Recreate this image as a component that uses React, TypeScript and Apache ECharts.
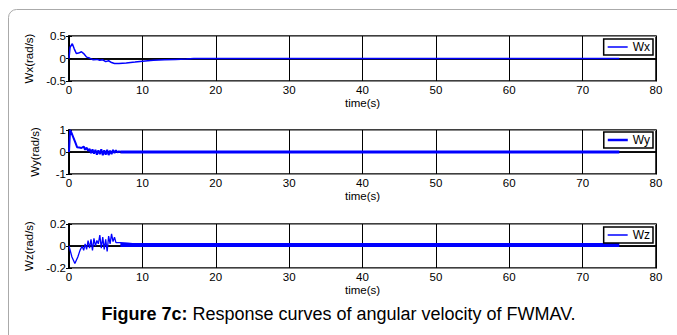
import React, { useEffect, useRef } from "react";
import * as echarts from "echarts";

const FONT = "'Liberation Sans', Arial, Helvetica, sans-serif";
const BLUE = "#0000ff";

// x ticks
const xTicks = [0, 10, 20, 30, 40, 50, 60, 70, 80];

// Wx (rad/s)
const tWx = [0, 0.15, 0.45, 0.7, 1.0, 1.3, 1.7, 2.0, 2.4, 2.8, 3.3, 3.8, 4.2, 4.6, 5.0, 5.4, 5.8, 6.2, 6.8, 7.8, 9.0, 10.0, 11.5, 13.0, 14.5, 16.0, 17.0, 75];
const vWx = [0, 0.25, 0.33, 0.22, 0.11, 0.12, 0.15, 0.11, 0.03, 0.01, -0.03, -0.02, -0.04, -0.03, -0.07, -0.05, -0.09, -0.11, -0.11, -0.1, -0.08, -0.06, -0.04, -0.03, -0.02, -0.01, 0, 0];

// Wy (rad/s) – transient part
const tWy = [0, 0.15, 0.3, 0.6, 0.9, 1.1, 1.4, 1.7, 2.0, 2.2, 2.4, 2.6, 2.8, 3.0, 3.2, 3.4, 3.6, 3.8, 4.0, 4.2, 4.4, 4.6, 4.8, 5.0, 5.2, 5.4, 5.6, 5.8, 6.0, 6.2, 6.4, 6.6, 6.8, 7.0];
const vWy = [0, 1.0, 0.9, 0.65, 0.4, 0.22, 0.2, 0.18, 0.25, 0.1, 0.2, 0.05, 0.15, -0.05, 0.12, -0.08, 0.1, -0.12, 0.08, -0.1, 0.12, -0.15, 0.08, -0.12, 0.1, -0.14, 0.06, -0.1, 0.1, -0.05, 0.08, -0.02, 0.03, 0];
// Wy steady part
const tWyTail = [7.0, 75];
const vWyTail = [0, 0];

// Wz (rad/s) – transient part
const tWz = [0, 0.4, 0.8, 1.2, 1.5, 1.8, 2.0, 2.2, 2.4, 2.6, 2.8, 3.0, 3.2, 3.4, 3.6, 3.8, 4.0, 4.2, 4.4, 4.6, 4.8, 5.0, 5.2, 5.4, 5.6, 5.8, 6.0, 6.2, 6.4, 6.7, 7.0, 8, 9, 10];
const vWz = [0, -0.1, -0.16, -0.1, -0.04, 0.0, -0.04, 0.02, -0.03, 0.05, -0.02, 0.06, -0.04, 0.07, 0.0, 0.05, 0.02, 0.1, -0.02, 0.08, -0.03, 0.06, -0.05, 0.09, 0.02, 0.11, 0.04, 0.08, 0.03, 0.03, 0.03, 0.025, 0.02, 0.015];
// Wz steady part
const tWzTail = [7.0, 75];
const vWzTail = [0.01, 0.01];

const yNames = ["Wx(rad/s)", "Wy(rad/s)", "Wz(rad/s)"];
const legendNames = ["Wx", "Wy", "Wz"];
const yMins = [-0.5, -1, -0.2];
const yMaxs = [0.5, 1, 0.2];
const yIntervals = [0.5, 1, 0.2];

const caption = "Figure 7c:";
const captionRest = " Response curves of angular velocity of FWMAV.";

const zip = (t: number[], v: number[]) => t.map((x, i) => [x, v[i]]);

export default function App() {
  const ref = useRef<HTMLDivElement>(null);
  useEffect(() => {
    if (!ref.current) return;
    const chart = echarts.init(ref.current, undefined, { renderer: "svg" });
    const tops = [36, 130, 224];
    const heights = [45, 44, 44];
    const legendTops = [39, 132, 227];
    const legendLineW = [1.5, 2.5, 1.5];
    const txt = { fontFamily: FONT, fontSize: 11.5, color: "#000" };

    const grid = tops.map((t, i) => ({
      left: 69,
      top: t,
      width: 587,
      height: heights[i],
      show: true,
      borderColor: "#000",
      borderWidth: 1.5,
      backgroundColor: "transparent",
    }));

    const xAxis: any[] = [];
    const yAxis: any[] = [];
    for (let i = 0; i < 3; i++) {
      xAxis.push({
        gridIndex: i,
        type: "value",
        min: xTicks[0],
        max: xTicks[xTicks.length - 1],
        interval: 10,
        axisLine: { show: true, lineStyle: { color: "#000", width: 1.5 } },
        axisTick: { show: true, inside: true, length: 3, lineStyle: { color: "#000" } },
        axisLabel: { margin: 3, ...txt },
        splitLine: { show: true, lineStyle: { color: "#000", width: 1 } },
        name: "time(s)",
        nameLocation: "middle",
        nameGap: 15,
        nameTextStyle: txt,
      });
      xAxis.push({
        gridIndex: i,
        type: "value",
        position: "top",
        min: xTicks[0],
        max: xTicks[xTicks.length - 1],
        interval: 10,
        axisLine: { show: true, lineStyle: { color: "#000", width: 1.5 } },
        axisTick: { show: true, inside: true, length: 3, lineStyle: { color: "#000" } },
        axisLabel: { show: false },
        splitLine: { show: false },
      });
      yAxis.push({
        gridIndex: i,
        type: "value",
        min: yMins[i],
        max: yMaxs[i],
        interval: yIntervals[i],
        axisLine: { show: true, lineStyle: { color: "#000", width: 1.5 } },
        axisTick: { show: true, inside: true, length: 3, lineStyle: { color: "#000" } },
        axisLabel: { margin: 3, ...txt },
        splitLine: { show: true, lineStyle: { color: "#888", width: 1 } },
        name: yNames[i],
        nameLocation: "middle",
        nameGap: 28,
        nameTextStyle: txt,
      });
      yAxis.push({
        gridIndex: i,
        type: "value",
        position: "right",
        min: yMins[i],
        max: yMaxs[i],
        interval: yIntervals[i],
        axisLine: { show: true, lineStyle: { color: "#000", width: 1.5 } },
        axisTick: { show: true, inside: true, length: 3, lineStyle: { color: "#000" } },
        axisLabel: { show: false },
        splitLine: { show: false },
      });
    }

    const lineBase = (name: string, gi: number, data: number[][], width: number) => ({
      name,
      type: "line",
      xAxisIndex: gi * 2,
      yAxisIndex: gi * 2,
      data,
      symbol: "none",
      showSymbol: false,
      lineStyle: { color: BLUE, width },
      itemStyle: { color: BLUE },
      z: 3,
    });

    const series = [
      lineBase("Wx", 0, zip(tWx, vWx), 1.5),
      lineBase("Wy", 1, zip(tWy, vWy), 2),
      lineBase("Wy", 1, zip(tWyTail, vWyTail), 3),
      lineBase("Wz", 2, zip(tWz, vWz), 1.3),
      lineBase("Wz", 2, zip(tWzTail, vWzTail), 4),
    ];

    const legend = legendNames.map((n, i) => ({
      data: [{ name: n, icon: "rect" }],
      right: 24,
      top: legendTops[i],
      padding: [2, 3, 2, 4],
      itemWidth: 20,
      itemHeight: legendLineW[i],
      itemGap: 0,
      borderColor: "#000",
      borderWidth: 1.5,
      backgroundColor: "#fff",
      selectedMode: false,
      itemStyle: { color: BLUE },
      textStyle: { fontFamily: FONT, fontSize: 12, color: "#000" },
    }));

    chart.setOption({
      animation: false,
      backgroundColor: "#fff",
      grid,
      xAxis,
      yAxis,
      legend,
      series,
      graphic: [
        {
          type: "rect",
          silent: true,
          z: -10,
          shape: { x: 8.5, y: 9.5, width: 720, height: 400, r: 8 },
          style: { fill: "none", stroke: "#aaaaaa", lineWidth: 1 },
        },
        {
          type: "text",
          left: "center",
          top: 305,
          style: {
            text: `{b|${caption}}${captionRest}`,
            fontFamily: FONT,
            fontSize: 18,
            fill: "#000",
            rich: {
              b: { fontFamily: FONT, fontSize: 18, fontWeight: "bold", fill: "#000" },
            },
          },
        },
      ],
    });
    return () => chart.dispose();
  }, []);
  return (
    <div
      ref={ref}
      style={{ position: "fixed", left: 0, top: 0, width: 677, height: 335 }}
    />
  );
}
